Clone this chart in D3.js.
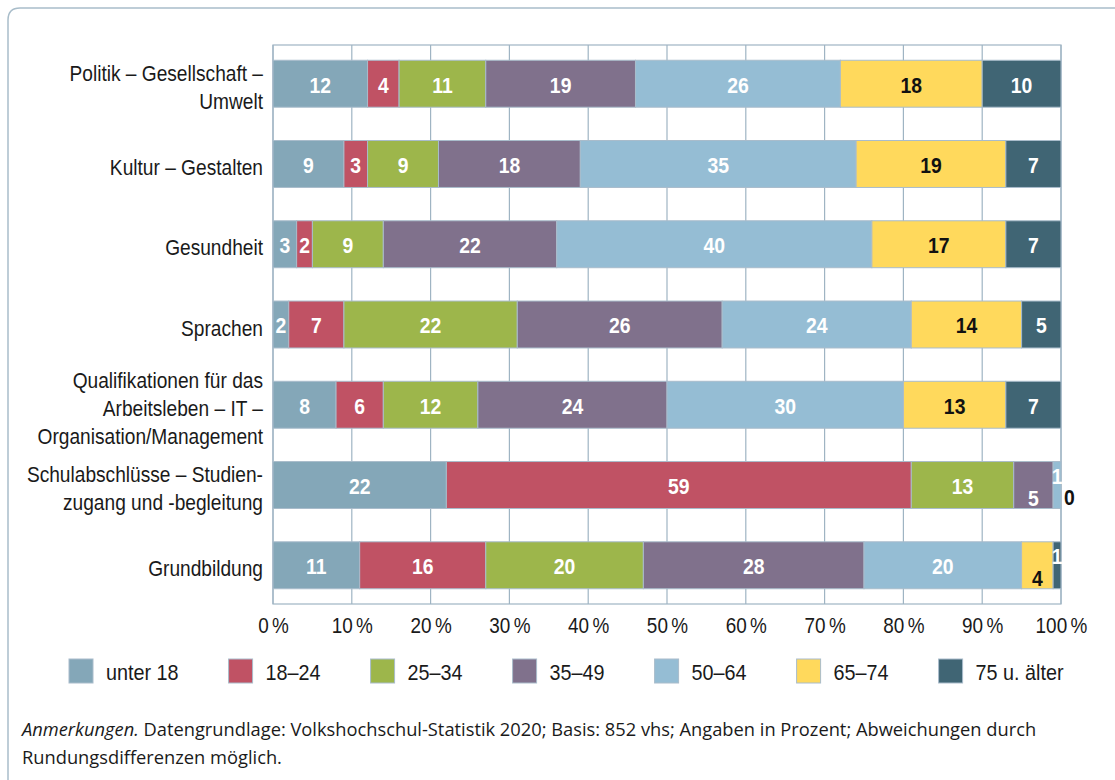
<!DOCTYPE html>
<html>
<head>
<meta charset="utf-8">
<script src="https://cdn.jsdelivr.net/npm/d3@7"></script>
<style>
  html, body { margin: 0; padding: 0; background: #fff; }
  svg { display: block; }
  .narrow { font-family: "Liberation Sans", Arial, sans-serif; }
  .note { font-family: "Open Sans", "Noto Sans", sans-serif; }
</style>
</head>
<body>
<svg id="chart" width="1115" height="780"></svg>
<script>
// ---- data ----
const categories = [
  "Politik – Gesellschaft –\nUmwelt",
  "Kultur – Gestalten",
  "Gesundheit",
  "Sprachen",
  "Qualifikationen für das\nArbeitsleben – IT –\nOrganisation/Management",
  "Schulabschlüsse – Studien-\nzugang und -begleitung",
  "Grundbildung"
];
const seriesNames = ["unter 18", "18–24", "25–34", "35–49", "50–64", "65–74", "75 u. älter"];
const unter18  = [12, 9, 3, 2, 8, 22, 11];
const age18_24 = [4, 3, 2, 7, 6, 59, 16];
const age25_34 = [11, 9, 9, 22, 12, 13, 20];
const age35_49 = [19, 18, 22, 26, 24, 5, 28];
const age50_64 = [26, 35, 40, 24, 30, 1, 20];
const age65_74 = [18, 19, 17, 14, 13, 0, 4];
const age75    = [10, 7, 7, 5, 7, 0, 1];
const tickValues = [0, 10, 20, 30, 40, 50, 60, 70, 80, 90, 100];
const noteItalic = "Anmerkungen.";
const noteLine1 = " Datengrundlage: Volkshochschul-Statistik 2020; Basis: 852 vhs; Angaben in Prozent; Abweichungen durch";
const noteLine2 = "Rundungsdifferenzen möglich.";

const seriesValues = [unter18, age18_24, age25_34, age35_49, age50_64, age65_74, age75];
const colors = ["#84a7b8", "#c05264", "#9db64b", "#80718c", "#95bdd4", "#ffd95c", "#406574"];
const labelColors = ["#fff", "#fff", "#fff", "#fff", "#fff", "#111", "#fff"];

const FS = 22;

const rows = categories.map((c, i) => {
  const o = { category: c };
  seriesNames.forEach((s, j) => { o[s] = seriesValues[j][i]; });
  return o;
});

const svg = d3.select("#chart");

// frame
svg.append("path")
  .attr("d", "M8,790 L8,20 Q8,8 20,8 L1125,8")
  .attr("fill", "none")
  .attr("stroke", "#a9bdca")
  .attr("stroke-width", 1.5);

const x = d3.scaleLinear().domain([0, 100]).range([273, 1061]);
const y = d3.scaleBand().domain(categories).range([45, 604]).paddingInner(0.415).paddingOuter(0.19);

const gridColor = "#9fb4c3";
svg.append("g").selectAll("line").data(tickValues).join("line")
  .attr("x1", d => x(d)).attr("x2", d => x(d))
  .attr("y1", 45).attr("y2", 604)
  .attr("stroke", gridColor).attr("stroke-width", 1.2);
svg.append("rect")
  .attr("x", x(0)).attr("y", 45).attr("width", x(100) - x(0)).attr("height", 604 - 45)
  .attr("fill", "none").attr("stroke", gridColor).attr("stroke-width", 1.2);

const stacked = d3.stack().keys(seriesNames)(rows);

const g = svg.append("g");
stacked.forEach((layer, si) => {
  g.append("g").selectAll("rect").data(layer).join("rect")
    .attr("x", d => x(d[0]))
    .attr("y", d => y(d.data.category))
    .attr("width", d => x(d[1]) - x(d[0]))
    .attr("height", y.bandwidth())
    .attr("fill", colors[si])
    .attr("stroke", "#a9bccb")
    .attr("stroke-width", 1);
});

// value labels
stacked.forEach((layer, si) => {
  layer.forEach((d, ci) => {
    const v = d[1] - d[0];
    const cy = y(d.data.category) + y.bandwidth() / 2;
    let lx = (x(d[0]) + x(d[1])) / 2, dy = 0, anchor = "middle", fill = labelColors[si];
    const next = si + 1 < seriesNames.length ? seriesValues[si + 1][ci] : null;
    if (v === 0) {
      if (si > 0 && seriesValues[si - 1][ci] === 0) return;
      lx = x(d[1]) + 3; anchor = "start"; dy = 11; fill = "#111";
    } else if (v <= 1) {
      dy = -10;
    } else if (v <= 5 && next !== null && next <= 1) {
      dy = 12;
    }
    g.append("text")
      .attr("class", "narrow")
      .attr("transform", `translate(${lx},${cy + dy + 1}) scale(0.88,1)`)
      .attr("text-anchor", anchor)
      .attr("dominant-baseline", "central")
      .attr("font-size", 22).attr("font-weight", "bold")
      .attr("fill", fill)
      .text(v);
  });
});

// category labels
const SXC = 0.87;
categories.forEach(c => {
  const lines = c.split("\n");
  const cy = y(c) + y.bandwidth() / 2 + 3;
  const lh = 28;
  const t = svg.append("text").attr("class", "narrow")
    .attr("transform", `translate(263,${cy}) scale(${SXC},1)`)
    .attr("text-anchor", "end").attr("font-size", FS).attr("fill", "#1a1a1a");
  lines.forEach((l, i) => {
    t.append("tspan").attr("x", 0)
      .attr("y", (i - (lines.length - 1) / 2) * lh)
      .attr("dominant-baseline", "central")
      .text(l);
  });
});

// x axis
const SXT = 0.86;
const axis = d3.axisBottom(x).tickValues(tickValues).tickSize(0).tickPadding(0).tickFormat(d => d);
const ax = svg.append("g").attr("transform", "translate(0,617)").call(axis);
ax.select(".domain").remove();
ax.attr("font-family", null).attr("font-size", null);
ax.selectAll(".tick text").each(function(d) {
  const t = d3.select(this);
  t.text(null).attr("class", "narrow").attr("font-size", FS).attr("fill", "#1a1a1a")
    .attr("dy", null).attr("y", 0).attr("dominant-baseline", "hanging")
    .attr("transform", `scale(${SXT},1)`);
  t.append("tspan").text(d);
  t.append("tspan").attr("dx", 4).text("%");
});

// legend
const SXL = 0.9;
const leg = svg.append("g");
let lxPos = 69;
seriesNames.forEach((s, i) => {
  leg.append("rect").attr("x", lxPos).attr("y", 659).attr("width", 24).attr("height", 24)
    .attr("fill", colors[i]).attr("stroke", "#a9bccb").attr("stroke-width", 1);
  const tx = lxPos + 37;
  const t = leg.append("text").attr("class", "narrow")
    .attr("transform", `translate(${tx},672) scale(${SXL},1)`)
    .attr("dominant-baseline", "central")
    .attr("font-size", FS).attr("fill", "#1a1a1a").text(s);
  lxPos = tx + t.node().getComputedTextLength() * SXL + 50;
});

// note
const note = svg.append("text").attr("class", "note").attr("font-size", 18.3).attr("fill", "#1a1a1a")
  .attr("x", 22).attr("y", 736);
note.append("tspan").attr("font-style", "italic").text(noteItalic);
note.append("tspan").text(noteLine1);
svg.append("text").attr("class", "note").attr("font-size", 18.3).attr("fill", "#1a1a1a")
  .attr("x", 22).attr("y", 764).text(noteLine2);
</script>
</body>
</html>
